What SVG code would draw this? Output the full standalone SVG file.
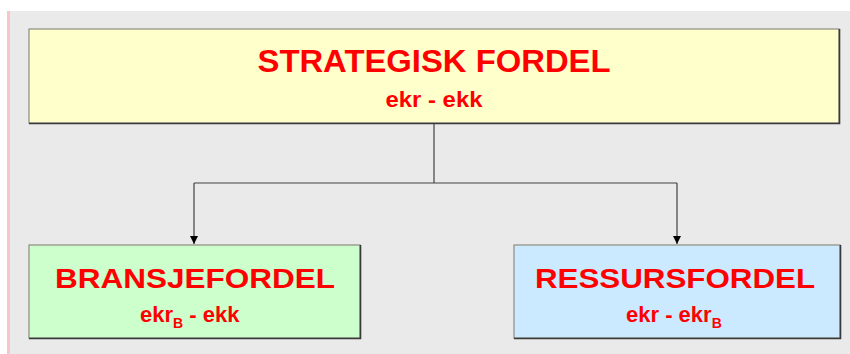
<svg xmlns="http://www.w3.org/2000/svg" width="850" height="354" viewBox="0 0 850 354">
  <defs>
    <style>
      .box { stroke: #8c8c80; stroke-width: 1.2; }
      .shadow { fill: none; stroke: #3a3a3a; stroke-width: 1.6; }
      .title { font-family: "Liberation Sans", Arial, sans-serif; font-weight: bold; fill: #ff0000; text-anchor: middle; }
      .sub { font-family: "Liberation Sans", Arial, sans-serif; font-weight: bold; fill: #ff0000; font-size: 22px; }
      .link { fill: none; stroke: #404040; stroke-width: 1.2; }
    </style>
    <marker id="arrow" viewBox="0 0 10 10" refX="10" refY="5" markerWidth="8" markerHeight="8" markerUnits="userSpaceOnUse" orient="auto">
      <path d="M0,0 L10,5 L0,10 Z" fill="#000"/>
    </marker>
  </defs>

  <!-- page background -->
  <rect x="0" y="0" width="850" height="354" fill="#ffffff"/>
  <rect x="10" y="11" width="840" height="343" fill="#eaeaea"/>
  <rect x="7" y="11" width="3" height="343" fill="#f8c6c6"/>

  <!-- connectors -->
  <g id="connectors">
    <path class="link" d="M434,123 V183"/>
    <path class="link" d="M194,183 H677"/>
    <path class="link" d="M194,183 V244" marker-end="url(#arrow)"/>
    <path class="link" d="M677,183 V244" marker-end="url(#arrow)"/>
  </g>

  <!-- top node -->
  <g id="strategisk-fordel">
    <rect class="box" x="29" y="29" width="810" height="94" fill="#ffffcc"/>
    <path class="shadow" d="M29,123.5 H839.5 V29"/>
    <text class="title" x="434" y="72" font-size="32" textLength="353" lengthAdjust="spacingAndGlyphs">STRATEGISK FORDEL</text>
    <text class="sub" x="434" y="107" text-anchor="middle" textLength="97" lengthAdjust="spacingAndGlyphs">ekr - ekk</text>
  </g>

  <!-- left node -->
  <g id="bransjefordel">
    <rect class="box" x="29" y="245" width="331" height="93" fill="#ccffcc"/>
    <path class="shadow" d="M29,338.5 H360.5 V245"/>
    <text class="title" x="195" y="288" font-size="28" textLength="280" lengthAdjust="spacingAndGlyphs">BRANSJEFORDEL</text>
    <text class="sub" x="140" y="322">ekr<tspan font-size="14" dy="6">B</tspan><tspan dy="-6"> - ekk</tspan></text>
  </g>

  <!-- right node -->
  <g id="ressursfordel">
    <rect class="box" x="514" y="245" width="326" height="93" fill="#cceaff"/>
    <path class="shadow" d="M514,338.5 H840.5 V245"/>
    <text class="title" x="675" y="288" font-size="28" textLength="280" lengthAdjust="spacingAndGlyphs">RESSURSFORDEL</text>
    <text class="sub" x="626" y="322">ekr - ekr<tspan font-size="14" dy="6">B</tspan></text>
  </g>
</svg>
